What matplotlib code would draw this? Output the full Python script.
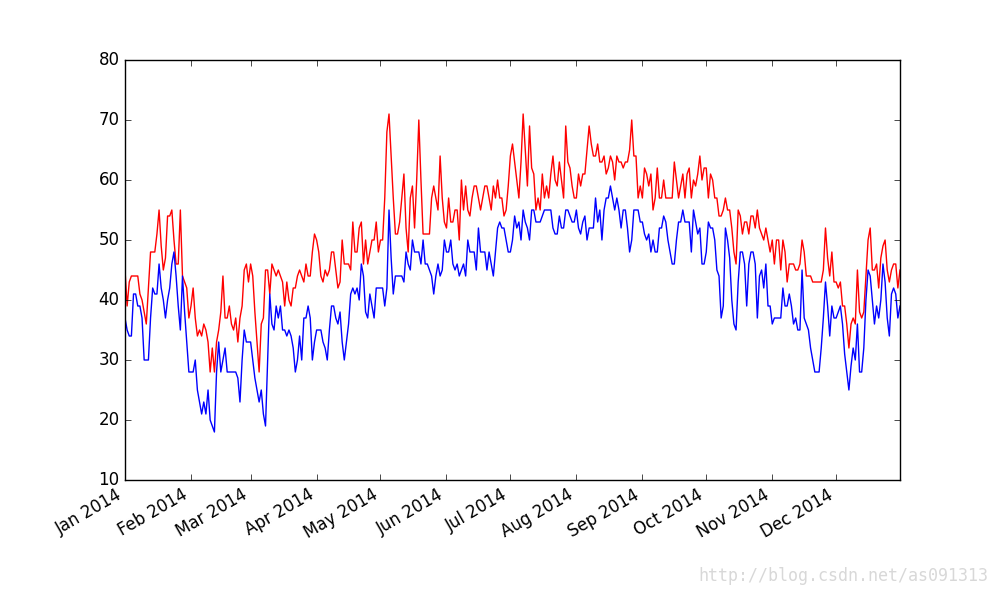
import numpy as np
import pandas as pd
import matplotlib
matplotlib.use('Agg')
import matplotlib.pyplot as plt
import matplotlib.dates as mdates

plt.style.use('classic')

# daily high temperatures, one list per month
high_jan = [45, 39, 43, 44, 44, 44, 44, 41, 40, 38, 36, 42, 48, 48, 48, 51, 55, 49, 45, 47,
            54, 54, 55, 50, 46, 46, 55, 44, 43, 42, 37]
high_feb = [39, 42, 37, 34, 35, 34, 36, 35, 33, 28, 32, 28, 33, 35, 38, 44, 37, 37, 39, 36,
            35, 37, 33, 37, 39, 45, 46, 43]
high_mar = [46, 44, 38, 33, 28, 36, 37, 45, 45, 41, 46, 45, 44, 45, 44, 43, 39, 43, 40, 39,
            42, 42, 44, 45, 44, 43, 46, 44, 44, 48, 51]
high_apr = [50, 48, 44, 43, 45, 44, 45, 48, 48, 45, 42, 43, 50, 46, 46, 46, 45, 53, 48, 48,
            52, 53, 46, 50, 46, 48, 50, 50, 53, 48]
high_may = [50, 50, 57, 68, 71, 64, 57, 51, 51, 53, 57, 61, 52, 48, 57, 59, 52, 60, 70, 60,
            51, 51, 51, 51, 57, 59, 57, 55, 64, 57, 53]
high_jun = [52, 57, 53, 53, 55, 55, 50, 60, 55, 59, 55, 54, 57, 59, 59, 57, 55, 57, 59, 59,
            57, 55, 59, 57, 60, 57, 57, 54, 55, 59]
high_jul = [64, 66, 63, 60, 57, 63, 71, 65, 59, 69, 62, 61, 55, 57, 55, 61, 57, 59, 57, 61,
            64, 60, 59, 63, 60, 57, 69, 63, 62, 59, 57]
high_aug = [57, 61, 59, 61, 61, 65, 69, 66, 64, 64, 66, 63, 63, 64, 61, 62, 64, 63, 60, 64,
            63, 63, 62, 63, 63, 65, 70, 64, 64, 57, 59]
high_sep = [57, 62, 61, 59, 61, 55, 57, 62, 57, 57, 60, 57, 57, 57, 57, 63, 60, 57, 59, 61,
            57, 61, 62, 57, 60, 59, 61, 64, 60, 62]
high_oct = [62, 57, 61, 60, 57, 57, 54, 54, 55, 57, 55, 55, 52, 48, 46, 55, 54, 51, 53, 53,
            51, 54, 54, 52, 55, 52, 51, 50, 52, 50, 48]
high_nov = [50, 46, 50, 50, 45, 50, 48, 43, 46, 46, 46, 45, 45, 46, 50, 48, 44, 44, 44, 43,
            43, 43, 43, 43, 45, 52, 47, 44, 48, 43]
high_dec = [43, 42, 43, 39, 39, 36, 32, 36, 37, 36, 45, 38, 37, 38, 44, 50, 52, 45, 45, 46,
            42, 47, 49, 50, 45, 43, 45, 46, 46, 42, 45]

# daily low temperatures
low_jan = [37, 35, 34, 34, 41, 41, 39, 39, 37, 30, 30, 30, 37, 42, 41, 41, 46, 42, 40, 37,
           40, 42, 46, 48, 44, 39, 35, 44, 38, 33, 28]
low_feb = [28, 28, 30, 25, 23, 21, 23, 21, 25, 20, 19, 18, 28, 33, 28, 30, 32, 28, 28, 28,
           28, 28, 27, 23, 30, 35, 33, 33]
low_mar = [33, 30, 27, 25, 23, 25, 21, 19, 30, 41, 36, 35, 39, 37, 39, 35, 35, 34, 35, 34,
           32, 28, 30, 34, 30, 37, 37, 39, 37, 30, 33]
low_apr = [35, 35, 35, 33, 32, 30, 35, 39, 39, 37, 36, 38, 33, 30, 33, 36, 41, 42, 41, 42,
           40, 46, 44, 38, 37, 41, 39, 37, 42, 42]
low_may = [42, 42, 39, 42, 55, 47, 41, 44, 44, 44, 44, 43, 48, 46, 45, 50, 48, 48, 48, 46,
           50, 46, 46, 45, 44, 41, 44, 46, 44, 45, 50]
low_jun = [48, 48, 50, 46, 45, 46, 44, 45, 46, 44, 50, 48, 48, 48, 45, 52, 48, 48, 48, 45,
           48, 46, 44, 48, 52, 53, 52, 52, 50, 48]
low_jul = [48, 50, 54, 52, 53, 50, 55, 53, 52, 50, 55, 55, 53, 53, 53, 54, 55, 55, 55, 55,
           52, 51, 51, 54, 52, 52, 55, 55, 54, 53, 53]
low_aug = [55, 52, 51, 53, 54, 50, 52, 52, 52, 57, 53, 55, 50, 55, 57, 57, 59, 57, 55, 57,
           55, 52, 55, 55, 52, 48, 50, 55, 55, 55, 53]
low_sep = [53, 51, 50, 51, 48, 50, 48, 48, 52, 52, 54, 53, 50, 48, 46, 46, 50, 53, 53, 55,
           53, 53, 53, 48, 55, 53, 51, 52, 46, 46]
low_oct = [48, 53, 52, 52, 50, 45, 44, 37, 39, 52, 50, 47, 40, 36, 35, 43, 48, 48, 46, 39,
           46, 48, 48, 46, 37, 44, 45, 42, 46, 39, 39]
low_nov = [36, 37, 37, 37, 37, 42, 39, 39, 41, 39, 36, 37, 35, 35, 45, 37, 36, 35, 32, 30,
           28, 28, 28, 32, 37, 43, 39, 34, 39, 37]
low_dec = [37, 38, 39, 36, 31, 28, 25, 29, 32, 30, 36, 28, 28, 32, 40, 45, 44, 40, 36, 39,
           37, 40, 46, 43, 37, 34, 41, 42, 41, 37, 39]

high = (high_jan + high_feb + high_mar + high_apr + high_may + high_jun +
        high_jul + high_aug + high_sep + high_oct + high_nov + high_dec)
low = (low_jan + low_feb + low_mar + low_apr + low_may + low_jun +
       low_jul + low_aug + low_sep + low_oct + low_nov + low_dec)
dates = pd.date_range('2014-01-01', periods=len(high), freq='D')

fig = plt.figure(figsize=(10, 6), dpi=100, facecolor='white')
ax = fig.add_subplot(111)
ax.plot(dates, high, 'r-', linewidth=1)
ax.plot(dates, low, 'b-', linewidth=1)

ax.set_xlim(dates[0], dates[-1])
ax.set_ylim(10, 80)
ax.set_yticks(np.arange(10, 81, 10))
ax.xaxis.set_major_locator(mdates.MonthLocator())
ax.xaxis.set_major_formatter(mdates.DateFormatter('%b %Y'))
fig.autofmt_xdate()
fig.subplots_adjust(left=0.125, right=0.9, top=0.9, bottom=0.2)

fig.text(0.988, 0.025, 'http://blog.csdn.net/as091313', ha='right', va='bottom',
         color='#d8d8d8', fontsize=12, family='DejaVu Sans Mono')

fig.savefig('out.png', dpi=100, facecolor='white')
